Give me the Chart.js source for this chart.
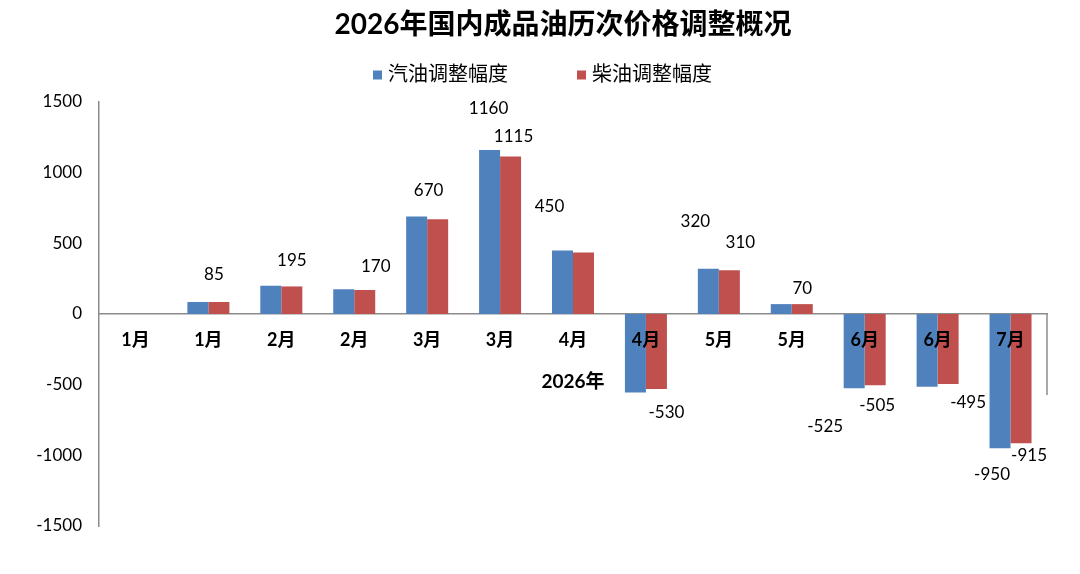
<!DOCTYPE html>
<html>
<head>
<meta charset="utf-8">
<script src="https://cdn.jsdelivr.net/npm/chart.js@4/dist/chart.umd.min.js"></script>
<style>
  html, body { margin: 0; padding: 0; background: #fff; }
  #wrap { width: 1080px; height: 574px; }
</style>
</head>
<body>
<div id="wrap"><canvas id="myChart" width="1080" height="574"></canvas></div>
<script>
var chartTitle = "2026年国内成品油历次价格调整概况";
var categories = ["1月", "1月", "2月", "2月", "3月", "3月", "4月", "4月", "5月", "5月", "6月", "6月", "7月"];
var gasoline = [0, 85, 200, 175, 690, 1160, 450, -555, 320, 70, -525, -515, -950];
var diesel = [0, 85, 195, 170, 670, 1115, 435, -530, 310, 70, -505, -495, -915];
var yTicks = [-1500, -1000, -500, 0, 500, 1000, 1500];
var seriesNames = ["汽油调整幅度", "柴油调整幅度"];
var seriesColors = ["#4F81BD", "#C0504D"];

// which bar gets a value label, and how far the label sits from the bar end (px)
var valueLabels = [
  [1, 1, -5, -27], [1, 2, 0, -26], [1, 3, 11, -23], [1, 4, -9, -29],
  [0, 5, -1, -42], [1, 5, 3, -20], [0, 6, -13, -44], [1, 7, 10, 24],
  [0, 8, -13, -47], [1, 8, 11, -28], [1, 9, 0, -16], [0, 10, -29, 38],
  [1, 10, 2, 20], [1, 11, 20, 19], [0, 12, -8, 26], [1, 12, 8, 12]
];

var numFont = "Lato, 'Noto Sans CJK SC', sans-serif";

var extras = {
  id: "extras",
  afterDraw: function (chart) {
    var ctx = chart.ctx;
    var area = chart.chartArea;
    var y0 = chart.scales.y.getPixelForValue(0);
    ctx.save();
    // end mark of the category axis
    ctx.strokeStyle = "#8c8c8c";
    ctx.lineWidth = 1.5;
    ctx.beginPath();
    ctx.moveTo(area.right, y0);
    ctx.lineTo(area.right, y0 + 81);
    ctx.stroke();

    // value labels
    ctx.fillStyle = "#000";
    ctx.font = "17px " + numFont;
    ctx.textAlign = "center";
    ctx.textBaseline = "middle";
    valueLabels.forEach(function (l) {
      var bar = chart.getDatasetMeta(l[0]).data[l[1]];
      var v = chart.data.datasets[l[0]].data[l[1]];
      ctx.fillText(String(v), bar.x + l[2], bar.y + l[3]);
    });

    // title
    ctx.font = "bold 28px " + numFont;
    ctx.fillText(chartTitle, 563, 25);

    // legend
    ctx.font = "20px " + numFont;
    ctx.textAlign = "left";
    var x = 373, ly = 75;
    seriesNames.forEach(function (name, i) {
      ctx.fillStyle = seriesColors[i];
      ctx.fillRect(x, ly - 4.5, 9, 9);
      ctx.fillStyle = "#000";
      ctx.fillText(name, x + 15, ly);
      x += 204;
    });
    ctx.restore();
  }
};

new Chart(document.getElementById("myChart").getContext("2d"), {
  type: "bar",
  data: {
    labels: categories,
    datasets: [
      { label: seriesNames[0], data: gasoline, backgroundColor: seriesColors[0] },
      { label: seriesNames[1], data: diesel, backgroundColor: seriesColors[1] }
    ]
  },
  options: {
    responsive: false,
    animation: false,
    categoryPercentage: 0.576,
    barPercentage: 1,
    layout: { padding: { left: 0, right: 33, top: 102, bottom: 48 } },
    plugins: {
      legend: { display: false },
      tooltip: { enabled: false },
      title: { display: false }
    },
    scales: {
      x: {
        position: { y: 0 },
        grid: { display: false, drawTicks: false },
        border: { display: true, color: "#8c8c8c", width: 1.5 },
        ticks: {
          z: 1,
          color: "#000",
          padding: 15,
          maxRotation: 0,
          autoSkip: false,
          font: { family: numFont, size: 18, weight: "bold" }
        },
        title: {
          display: true,
          text: "2026年",
          color: "#000",
          font: { family: numFont, size: 19, weight: "bold" },
          padding: { top: 5, bottom: 0 }
        }
      },
      y: {
        min: -1500,
        max: 1500,
        afterFit: function (scale) { scale.width = 99; },
        afterBuildTicks: function (scale) {
          scale.ticks = yTicks.map(function (v) { return { value: v }; });
        },
        grid: { display: false, drawTicks: false },
        border: { display: true, color: "#8c8c8c", width: 1.5 },
        ticks: {
          color: "#000",
          padding: 17,
          font: { family: numFont, size: 17 },
          callback: function (v) { return String(v); }
        }
      }
    }
  },
  plugins: [extras]
});
</script>
</body>
</html>
